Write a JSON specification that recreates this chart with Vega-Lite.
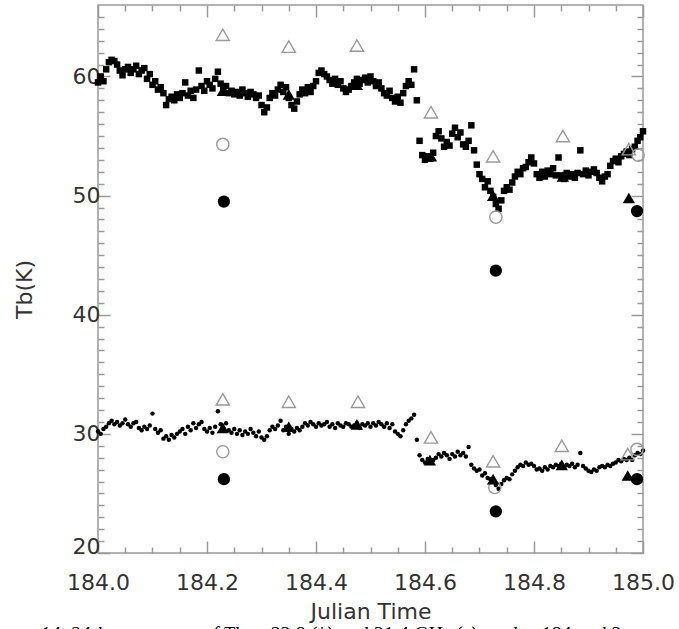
{
"$schema": "https://vega.github.io/schema/vega-lite/v6.json",
"width": 545,
"height": 548,
"autosize": {"type": "none"},
"padding": {"left": 98, "top": 5, "right": 36, "bottom": 76},
"background": "white",
"config": {
  "view": {"stroke": "#9a9a9a", "strokeWidth": 1.5},
  "axis": {"grid": false, "domain": false, "tickColor": "#9a9a9a", "tickWidth": 1.5, "labelFont": "DejaVu Sans", "labelFontSize": 22, "labelColor": "#333333", "titleFont": "DejaVu Sans", "titleFontSize": 22, "titleFontWeight": "normal", "titleColor": "#333333"}
},
"title": {"text": "14.  24-hour pattern of Tb at 23.8 (*) and 31.4 GHz (x) on day 184 and 3", "orient": "bottom", "anchor": "start", "frame": "group", "dx": -58, "offset": 3, "baseline": "top", "font": "Liberation Serif", "fontStyle": "italic", "fontWeight": "normal", "fontSize": 20, "color": "#000000"},
"datasets": {
"series": [
{"t":184.000,"u":59.5,"l":30.2},{"t":184.005,"u":60.0,"l":30.0},{"t":184.010,"u":59.6,"l":30.4},{"t":184.015,"u":60.6,"l":30.6},
{"t":184.020,"u":61.2,"l":30.9},{"t":184.025,"u":61.4,"l":31.1},{"t":184.030,"u":61.3,"l":30.8},{"t":184.035,"u":61.0,"l":31.0},
{"t":184.040,"u":60.5,"l":30.7},{"t":184.045,"u":60.1,"l":30.9},{"t":184.050,"u":60.6,"l":31.2},{"t":184.055,"u":60.8,"l":30.8},
{"t":184.060,"u":60.3,"l":30.6},{"t":184.065,"u":60.6,"l":30.9},{"t":184.070,"u":60.9,"l":31.0},{"t":184.075,"u":60.2,"l":30.5},
{"t":184.080,"u":60.5,"l":30.3},{"t":184.085,"u":60.7,"l":30.6},{"t":184.090,"u":59.8,"l":30.4},{"t":184.095,"u":60.2,"l":30.7},
{"t":184.100,"u":59.3,"l":31.7},{"t":184.105,"u":59.6,"l":30.4},{"t":184.110,"u":58.9,"l":30.1},{"t":184.115,"u":59.1,"l":30.3},
{"t":184.120,"u":58.6,"l":29.6},{"t":184.125,"u":57.6,"l":29.8},{"t":184.130,"u":58.1,"l":29.5},{"t":184.135,"u":58.3,"l":29.9},
{"t":184.140,"u":58.0,"l":29.7},{"t":184.145,"u":58.5,"l":30.0},{"t":184.150,"u":58.2,"l":30.2},{"t":184.155,"u":58.6,"l":30.4},
{"t":184.160,"u":59.5,"l":30.0},{"t":184.165,"u":58.4,"l":30.6},{"t":184.170,"u":58.8,"l":30.3},{"t":184.175,"u":58.2,"l":30.9},
{"t":184.180,"u":58.9,"l":30.5},{"t":184.185,"u":60.5,"l":30.8},{"t":184.190,"u":59.2,"l":31.0},{"t":184.195,"u":58.8,"l":30.4},
{"t":184.200,"u":59.6,"l":30.2},{"t":184.205,"u":59.3,"l":30.5},{"t":184.210,"u":59.0,"l":30.1},{"t":184.215,"u":59.8,"l":30.6},
{"t":184.220,"u":60.4,"l":31.9},{"t":184.225,"u":59.4,"l":30.8},{"t":184.230,"u":58.9,"l":30.5},{"t":184.235,"u":59.2,"l":30.9},
{"t":184.240,"u":58.6,"l":30.3},{"t":184.245,"u":58.8,"l":30.1},{"t":184.250,"u":58.5,"l":30.4},{"t":184.255,"u":58.7,"l":30.0},
{"t":184.260,"u":58.4,"l":30.3},{"t":184.265,"u":58.9,"l":29.9},{"t":184.270,"u":58.6,"l":30.2},{"t":184.275,"u":58.3,"l":30.0},
{"t":184.280,"u":58.7,"l":30.4},{"t":184.285,"u":58.5,"l":30.1},{"t":184.290,"u":58.2,"l":29.8},{"t":184.295,"u":58.4,"l":30.2},
{"t":184.300,"u":57.6,"l":29.7},{"t":184.305,"u":57.0,"l":29.5},{"t":184.310,"u":57.4,"l":29.8},{"t":184.315,"u":58.2,"l":30.3},
{"t":184.320,"u":58.6,"l":30.6},{"t":184.325,"u":58.4,"l":30.4},{"t":184.330,"u":58.9,"l":30.7},{"t":184.335,"u":59.3,"l":31.1},
{"t":184.340,"u":58.7,"l":30.3},{"t":184.345,"u":59.1,"l":30.6},{"t":184.350,"u":58.2,"l":30.0},{"t":184.355,"u":57.6,"l":30.4},
{"t":184.360,"u":57.3,"l":30.2},{"t":184.365,"u":57.9,"l":30.5},{"t":184.370,"u":58.5,"l":30.3},{"t":184.375,"u":58.9,"l":30.6},
{"t":184.380,"u":58.6,"l":30.9},{"t":184.385,"u":59.1,"l":30.7},{"t":184.390,"u":58.7,"l":31.0},{"t":184.395,"u":59.2,"l":30.8},
{"t":184.400,"u":59.6,"l":30.6},{"t":184.405,"u":60.3,"l":30.9},{"t":184.410,"u":60.5,"l":30.7},{"t":184.415,"u":60.2,"l":30.8},
{"t":184.420,"u":60.0,"l":31.0},{"t":184.425,"u":59.7,"l":30.6},{"t":184.430,"u":59.4,"l":30.8},{"t":184.435,"u":59.8,"l":30.5},
{"t":184.440,"u":59.3,"l":30.9},{"t":184.445,"u":59.6,"l":30.7},{"t":184.450,"u":59.0,"l":30.6},{"t":184.455,"u":58.7,"l":30.9},
{"t":184.460,"u":58.9,"l":30.8},{"t":184.465,"u":59.2,"l":30.6},{"t":184.470,"u":59.5,"l":30.7},{"t":184.475,"u":59.8,"l":30.9},
{"t":184.480,"u":59.4,"l":30.5},{"t":184.485,"u":59.7,"l":30.8},{"t":184.490,"u":59.9,"l":30.7},{"t":184.495,"u":59.5,"l":30.9},
{"t":184.500,"u":60.0,"l":30.6},{"t":184.505,"u":59.6,"l":30.9},{"t":184.510,"u":59.2,"l":30.7},{"t":184.515,"u":59.5,"l":31.0},
{"t":184.520,"u":59.0,"l":30.8},{"t":184.525,"u":58.6,"l":30.6},{"t":184.530,"u":58.4,"l":30.9},{"t":184.535,"u":58.8,"l":30.5},
{"t":184.540,"u":58.2,"l":30.8},{"t":184.545,"u":57.9,"l":30.2},{"t":184.550,"u":58.3,"l":30.0},{"t":184.555,"u":57.8,"l":29.8},
{"t":184.560,"u":58.6,"l":30.3},{"t":184.565,"u":59.2,"l":30.8},{"t":184.570,"u":59.6,"l":31.1},{"t":184.575,"u":59.3,"l":31.3},
{"t":184.580,"u":60.6,"l":31.6},{"t":184.585,"u":58.0,"l":29.5},{"t":184.590,"u":54.6,"l":28.2},{"t":184.595,"u":53.4,"l":27.8},
{"t":184.600,"u":53.0,"l":27.6},{"t":184.605,"u":53.3,"l":27.9},{"t":184.610,"u":53.1,"l":27.7},{"t":184.615,"u":53.6,"l":27.8},
{"t":184.620,"u":55.0,"l":28.0},{"t":184.625,"u":55.4,"l":28.3},{"t":184.630,"u":54.8,"l":28.1},{"t":184.635,"u":54.1,"l":28.4},
{"t":184.640,"u":54.5,"l":28.2},{"t":184.645,"u":54.2,"l":27.9},{"t":184.650,"u":55.2,"l":28.3},{"t":184.655,"u":55.7,"l":28.1},
{"t":184.660,"u":54.9,"l":28.5},{"t":184.665,"u":55.3,"l":28.2},{"t":184.670,"u":54.3,"l":28.4},{"t":184.675,"u":54.1,"l":28.1},
{"t":184.680,"u":54.6,"l":28.9},{"t":184.685,"u":55.9,"l":27.4},{"t":184.690,"u":53.8,"l":27.1},{"t":184.695,"u":52.6,"l":26.9},
{"t":184.700,"u":51.8,"l":27.0},{"t":184.705,"u":51.4,"l":26.5},{"t":184.710,"u":50.7,"l":26.7},{"t":184.715,"u":51.2,"l":26.3},
{"t":184.720,"u":50.4,"l":26.2},{"t":184.725,"u":49.9,"l":26.0},{"t":184.730,"u":49.3,"l":25.7},{"t":184.735,"u":48.9,"l":25.4},
{"t":184.740,"u":49.6,"l":25.8},{"t":184.745,"u":50.4,"l":26.1},{"t":184.750,"u":50.7,"l":26.3},{"t":184.755,"u":50.5,"l":26.2},
{"t":184.760,"u":51.1,"l":26.6},{"t":184.765,"u":51.6,"l":26.9},{"t":184.770,"u":52.0,"l":27.2},{"t":184.775,"u":51.8,"l":27.4},
{"t":184.780,"u":52.3,"l":27.3},{"t":184.785,"u":52.4,"l":27.6},{"t":184.790,"u":52.8,"l":27.4},{"t":184.795,"u":53.2,"l":27.5},
{"t":184.800,"u":52.7,"l":27.3},{"t":184.805,"u":51.8,"l":27.0},{"t":184.810,"u":51.5,"l":27.1},{"t":184.815,"u":52.0,"l":26.9},
{"t":184.820,"u":51.6,"l":27.2},{"t":184.825,"u":52.1,"l":27.0},{"t":184.830,"u":51.8,"l":27.3},{"t":184.835,"u":52.3,"l":27.2},
{"t":184.840,"u":51.7,"l":27.4},{"t":184.845,"u":53.2,"l":27.3},{"t":184.850,"u":51.7,"l":27.5},{"t":184.855,"u":51.4,"l":27.2},
{"t":184.860,"u":51.9,"l":27.4},{"t":184.865,"u":51.6,"l":27.3},{"t":184.870,"u":51.8,"l":27.5},{"t":184.875,"u":51.5,"l":27.2},
{"t":184.880,"u":51.9,"l":27.4},{"t":184.885,"u":53.8,"l":28.4},{"t":184.890,"u":51.8,"l":27.3},{"t":184.895,"u":52.1,"l":27.1},
{"t":184.900,"u":51.7,"l":26.9},{"t":184.905,"u":52.0,"l":26.8},{"t":184.910,"u":52.2,"l":27.0},{"t":184.915,"u":51.9,"l":26.9},
{"t":184.920,"u":51.5,"l":27.2},{"t":184.925,"u":51.2,"l":27.3},{"t":184.930,"u":51.6,"l":27.2},{"t":184.935,"u":51.8,"l":27.4},
{"t":184.940,"u":52.5,"l":27.3},{"t":184.945,"u":52.9,"l":27.5},{"t":184.950,"u":53.1,"l":27.6},{"t":184.955,"u":52.8,"l":27.8},
{"t":184.960,"u":53.3,"l":27.7},{"t":184.965,"u":53.5,"l":27.9},{"t":184.970,"u":53.7,"l":27.8},{"t":184.975,"u":53.4,"l":28.0},
{"t":184.980,"u":53.9,"l":27.8},{"t":184.985,"u":54.1,"l":28.2},{"t":184.990,"u":54.6,"l":28.4},{"t":184.995,"u":54.9,"l":28.3},
{"t":185.000,"u":55.4,"l":28.6}
],
"markers": [
{"t":184.229,"v":63.5,"kind":"tri_open"},{"t":184.350,"v":62.5,"kind":"tri_open"},{"t":184.475,"v":62.6,"kind":"tri_open"},{"t":184.611,"v":57.0,"kind":"tri_open"},{"t":184.725,"v":53.3,"kind":"tri_open"},{"t":184.853,"v":55.0,"kind":"tri_open"},{"t":184.974,"v":53.9,"kind":"tri_open"},
{"t":184.229,"v":32.9,"kind":"tri_open"},{"t":184.350,"v":32.7,"kind":"tri_open"},{"t":184.477,"v":32.7,"kind":"tri_open"},{"t":184.611,"v":29.7,"kind":"tri_open"},{"t":184.725,"v":27.7,"kind":"tri_open"},{"t":184.851,"v":29.0,"kind":"tri_open"},{"t":184.972,"v":28.3,"kind":"tri_open"},
{"t":184.229,"v":54.3,"kind":"circ_open"},{"t":184.730,"v":48.2,"kind":"circ_open"},{"t":184.991,"v":53.4,"kind":"circ_open"},
{"t":184.229,"v":28.5,"kind":"circ_open"},{"t":184.728,"v":25.5,"kind":"circ_open"},{"t":184.989,"v":28.7,"kind":"circ_open"},
{"t":184.231,"v":49.5,"kind":"circ_fill"},{"t":184.730,"v":43.7,"kind":"circ_fill"},{"t":184.989,"v":48.7,"kind":"circ_fill"},
{"t":184.231,"v":26.2,"kind":"circ_fill"},{"t":184.730,"v":23.5,"kind":"circ_fill"},{"t":184.989,"v":26.2,"kind":"circ_fill"},
{"t":184.229,"v":58.8,"kind":"tri_fill"},{"t":184.350,"v":58.5,"kind":"tri_fill"},{"t":184.475,"v":59.3,"kind":"tri_fill"},{"t":184.611,"v":53.3,"kind":"tri_fill"},{"t":184.725,"v":50.0,"kind":"tri_fill"},{"t":184.853,"v":51.6,"kind":"tri_fill"},{"t":184.974,"v":49.8,"kind":"tri_fill"},
{"t":184.229,"v":30.5,"kind":"tri_fill"},{"t":184.350,"v":30.6,"kind":"tri_fill"},{"t":184.475,"v":30.8,"kind":"tri_fill"},{"t":184.609,"v":27.8,"kind":"tri_fill"},{"t":184.725,"v":26.2,"kind":"tri_fill"},{"t":184.851,"v":27.4,"kind":"tri_fill"},{"t":184.972,"v":26.5,"kind":"tri_fill"}
]
},
"resolve": {"scale": {"x": "shared", "y": "shared"}, "axis": {"x": "independent", "y": "independent"}},
"layer": [
{
  "data": {"name": "series"},
  "mark": {"type": "square", "size": 42, "color": "black", "opacity": 1},
  "encoding": {
    "x": {"field": "t", "type": "quantitative", "scale": {"domain": [184, 185], "nice": false, "zero": false},
      "axis": {"orient": "bottom", "values": [184, 184.2, 184.4, 184.6, 184.8, 185], "format": ".1f", "tickSize": -12, "labelPadding": 31, "labelFlush": false, "title": "Julian Time", "titlePadding": 8}},
    "y": {"field": "u", "type": "quantitative", "scale": {"domain": [20, 66], "nice": false, "zero": false},
      "axis": {"orient": "left", "values": [20, 30, 40, 50, 60], "tickSize": -12, "labelPadding": 10, "labelFlush": true, "labelFlushOffset": 5, "title": "Tb(K)", "titleX": -62, "titleY": 284}}
  }
},
{
  "data": {"name": "series"},
  "mark": {"type": "circle", "size": 20, "color": "black", "opacity": 1},
  "encoding": {
    "x": {"field": "t", "type": "quantitative", "scale": {"domain": [184, 185], "nice": false, "zero": false},
      "axis": {"orient": "bottom", "values": [184.05,184.1,184.15,184.25,184.3,184.35,184.45,184.5,184.55,184.65,184.7,184.75,184.85,184.9,184.95], "tickSize": -6, "labels": false, "title": null}},
    "y": {"field": "l", "type": "quantitative", "scale": {"domain": [20, 66], "nice": false, "zero": false},
      "axis": {"orient": "left", "values": [21,22,23,24,25,26,27,28,29,31,32,33,34,35,36,37,38,39,41,42,43,44,45,46,47,48,49,51,52,53,54,55,56,57,58,59,61,62,63,64,65], "tickSize": -6, "labels": false, "title": null}}
  }
},
{
  "data": {"name": "markers"},
  "transform": [{"filter": "datum.kind === 'tri_open'"}],
  "mark": {"type": "point", "shape": "triangle-up", "filled": false, "stroke": "#9a9a9a", "strokeWidth": 1.4, "size": 175, "opacity": 1},
  "encoding": {
    "x": {"field": "t", "type": "quantitative", "scale": {"domain": [184, 185], "nice": false, "zero": false},
      "axis": {"orient": "top", "values": [184, 184.2, 184.4, 184.6, 184.8, 185], "tickSize": -12, "labels": false, "title": null}},
    "y": {"field": "v", "type": "quantitative", "scale": {"domain": [20, 66], "nice": false, "zero": false},
      "axis": {"orient": "right", "values": [20, 30, 40, 50, 60], "tickSize": -12, "labels": false, "title": null}}
  }
},
{
  "data": {"name": "markers"},
  "transform": [{"filter": "datum.kind === 'circ_open'"}],
  "mark": {"type": "point", "shape": "circle", "filled": false, "stroke": "#9a9a9a", "strokeWidth": 1.4, "size": 150, "opacity": 1},
  "encoding": {
    "x": {"field": "t", "type": "quantitative", "scale": {"domain": [184, 185], "nice": false, "zero": false},
      "axis": {"orient": "top", "values": [184.05,184.1,184.15,184.25,184.3,184.35,184.45,184.5,184.55,184.65,184.7,184.75,184.85,184.9,184.95], "tickSize": -6, "labels": false, "title": null}},
    "y": {"field": "v", "type": "quantitative", "scale": {"domain": [20, 66], "nice": false, "zero": false},
      "axis": {"orient": "right", "values": [21,22,23,24,25,26,27,28,29,31,32,33,34,35,36,37,38,39,41,42,43,44,45,46,47,48,49,51,52,53,54,55,56,57,58,59,61,62,63,64,65], "tickSize": -6, "labels": false, "title": null}}
  }
},
{
  "data": {"name": "markers"},
  "transform": [{"filter": "datum.kind === 'tri_fill'"}],
  "mark": {"type": "point", "shape": "triangle-up", "filled": true, "color": "black", "size": 150, "opacity": 1},
  "encoding": {
    "x": {"field": "t", "type": "quantitative", "scale": {"domain": [184, 185], "nice": false, "zero": false}, "axis": null},
    "y": {"field": "v", "type": "quantitative", "scale": {"domain": [20, 66], "nice": false, "zero": false}, "axis": null}
  }
},
{
  "data": {"name": "markers"},
  "transform": [{"filter": "datum.kind === 'circ_fill'"}],
  "mark": {"type": "circle", "color": "black", "size": 150, "opacity": 1},
  "encoding": {
    "x": {"field": "t", "type": "quantitative", "scale": {"domain": [184, 185], "nice": false, "zero": false}, "axis": null},
    "y": {"field": "v", "type": "quantitative", "scale": {"domain": [20, 66], "nice": false, "zero": false}, "axis": null}
  }
}
]
}
